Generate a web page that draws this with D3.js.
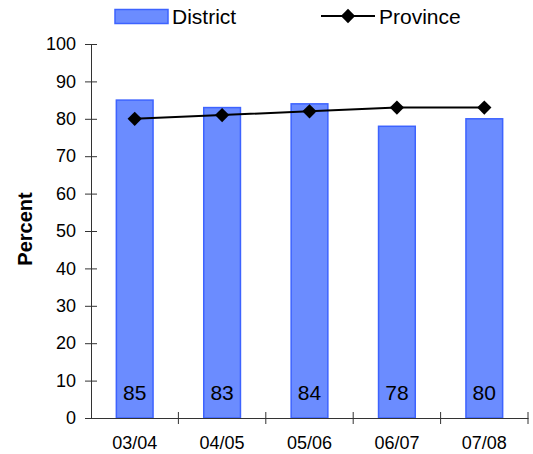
<!DOCTYPE html>
<meta charset="utf-8">
<head>
    <script src="https://d3js.org/d3.v7.min.js"></script>
    <style>
        body { margin: 0; background: #fff; }
        text { font-family: Arial, "Liberation Sans", sans-serif; }
    </style>
</head>
<body>
<div id="graph"></div>
<script>
    // data
    var years = ["03/04", "04/05", "05/06", "06/07", "07/08"];
    var district = [85, 83, 84, 78, 80];
    var province = [80, 81, 82, 83, 83];
    var yTicks = [0, 10, 20, 30, 40, 50, 60, 70, 80, 90, 100];

    var margin = {top: 44, right: 5, bottom: 36, left: 91},
        width = 533 - margin.left - margin.right,
        height = 454 - margin.top - margin.bottom;

    var svg = d3.select("#graph")
      .append("svg")
        .attr("width", 533)
        .attr("height", 454)
      .append("g")
        .attr("transform", "translate(" + margin.left + "," + margin.top + ")");

    var x = d3.scaleBand()
        .domain(years)
        .range([0, width]);

    var y = d3.scaleLinear()
        .domain([0, 100])
        .range([height, 0]);

    var barW = x.bandwidth() * 0.42;
    var fontFam = "Arial, 'Liberation Sans', sans-serif";

    // bars
    svg.selectAll(".bar")
        .data(district)
        .enter()
        .append("rect")
        .attr("x", function(d, i) { return x(years[i]) + x.bandwidth() / 2 - barW / 2; })
        .attr("y", function(d) { return y(d); })
        .attr("width", barW)
        .attr("height", function(d) { return height - y(d); })
        .style("fill", "#6b8cff")
        .style("stroke", "#3d63ff")
        .style("stroke-width", 1.5);

    // bar value labels
    svg.selectAll(".val")
        .data(district)
        .enter()
        .append("text")
        .attr("x", function(d, i) { return x(years[i]) + x.bandwidth() / 2; })
        .attr("y", y(4.8))
        .attr("text-anchor", "middle")
        .style("font-size", "21px")
        .text(function(d) { return d; });

    // y axis
    var yAxis = d3.axisLeft(y).tickValues(yTicks).tickSize(6).tickSizeOuter(0);
    var gy = svg.append("g").call(yAxis);
    gy.selectAll(".tick line").attr("x1", -6).attr("x2", 6).attr("stroke", "#333");
    gy.selectAll(".tick text").attr("x", -15).style("font-size", "18px").style("font-family", fontFam);
    gy.select(".domain").attr("stroke", "#333");

    // x axis
    var xAxis = d3.axisBottom(x).tickSize(0).tickSizeOuter(0);
    var gx = svg.append("g")
        .attr("transform", "translate(0," + height + ")")
        .call(xAxis);
    gx.selectAll(".tick text").attr("y", 18).style("font-size", "18px").style("font-family", fontFam);
    gx.select(".domain").attr("stroke", "#333");
    // boundary ticks between categories
    gx.selectAll(".btick")
        .data(years)
        .enter()
        .append("line")
        .attr("x1", function(d, i) { return x.step() * (i + 1); })
        .attr("x2", function(d, i) { return x.step() * (i + 1); })
        .attr("y1", -6)
        .attr("y2", 6)
        .attr("stroke", "#333");

    // province line
    var line = d3.line()
        .x(function(d, i) { return x(years[i]) + x.bandwidth() / 2; })
        .y(function(d) { return y(d); });
    svg.append("path")
        .datum(province)
        .attr("d", line)
        .attr("fill", "none")
        .attr("stroke", "#000")
        .attr("stroke-width", 2);
    var diamond = d3.symbol().type(d3.symbolDiamond2).size(130);
    svg.selectAll(".pt")
        .data(province)
        .enter()
        .append("path")
        .attr("d", diamond)
        .attr("transform", function(d, i) { return "translate(" + (x(years[i]) + x.bandwidth() / 2) + "," + y(d) + ")"; })
        .attr("fill", "#000");

    // y label
    svg.append("text")
        .attr("transform", "rotate(-90)")
        .attr("x", -height / 2 + 2)
        .attr("y", -59)
        .attr("text-anchor", "middle")
        .style("font-size", "20px")
        .style("font-weight", "bold")
        .text("Percent");

    // legend
    var lg = d3.select("svg");
    lg.append("rect").attr("x", 115).attr("y", 9.5).attr("width", 53).attr("height", 14)
        .style("fill", "#6b8cff").style("stroke", "#3d63ff").style("stroke-width", 1.5);
    lg.append("text").attr("x", 172).attr("y", 24).style("font-size", "21px").text("District");
    lg.append("line").attr("x1", 321).attr("x2", 375).attr("y1", 16).attr("y2", 16)
        .attr("stroke", "#000").attr("stroke-width", 2);
    lg.append("path").attr("d", diamond).attr("transform", "translate(348,16)").attr("fill", "#000");
    lg.append("text").attr("x", 379).attr("y", 24).style("font-size", "21px").text("Province");
</script>
</body>
